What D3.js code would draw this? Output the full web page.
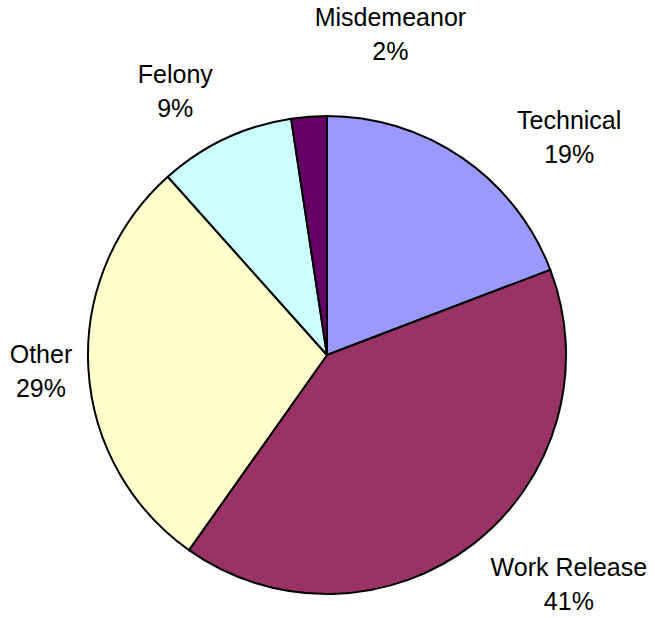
<!DOCTYPE html>
<html>
<head>
<meta charset="utf-8">
<script src="https://cdn.jsdelivr.net/npm/d3@7"></script>
<style>
  html, body { margin: 0; padding: 0; background: #fff; }
  svg { display: block; }
  text { font-family: "Liberation Sans", Arial, sans-serif; fill: #000; }
</style>
</head>
<body>
<svg id="chart" width="655" height="618"></svg>
<script>
// Data (clockwise from 12 o'clock)
const categories = ["Technical", "Work Release", "Other", "Felony", "Misdemeanor"];
const values = [19.2, 40.6, 28.6, 9.2, 2.4];
const colors = ["#9999FF", "#993366", "#FFFFCC", "#CCFFFF", "#660066"];

// Layout / style (not data)
const W = 655, H = 618;
const cx = 327, cy = 355, radius = 239;
const labelRadius = 300;
const labelNudge = [[72, 29], [58, -8], [13.5, -1], [-24, 7], [86, -22]];
const fontSize = 25;

const svg = d3.select("#chart");
const g = svg.append("g").attr("transform", `translate(${cx},${cy})`);

const total = d3.sum(values);
const pie = d3.pie().sort(null).value(d => d)(values);
const arc = d3.arc().innerRadius(0).outerRadius(radius);
const labelArc = d3.arc().innerRadius(labelRadius).outerRadius(labelRadius);

g.selectAll("path.slice")
  .data(pie)
  .join("path")
  .attr("class", "slice")
  .attr("d", arc)
  .attr("fill", (d, i) => colors[i])
  .attr("stroke", "#000")
  .attr("stroke-width", 2)
  .attr("stroke-linejoin", "round");

const labels = g.selectAll("text.lbl")
  .data(pie)
  .join("text")
  .attr("class", "lbl")
  .attr("text-anchor", "middle")
  .attr("font-size", fontSize)
  .attr("transform", (d, i) => {
    const c = labelArc.centroid(d);
    return `translate(${c[0] + labelNudge[i][0]},${c[1] + labelNudge[i][1]})`;
  });

labels.append("tspan")
  .attr("x", 0).attr("y", -8)
  .text((d, i) => categories[i]);
labels.append("tspan")
  .attr("x", 0).attr("y", 26)
  .text(d => Math.round(d.value / total * 100 + 1e-9) + "%");
</script>
</body>
</html>
